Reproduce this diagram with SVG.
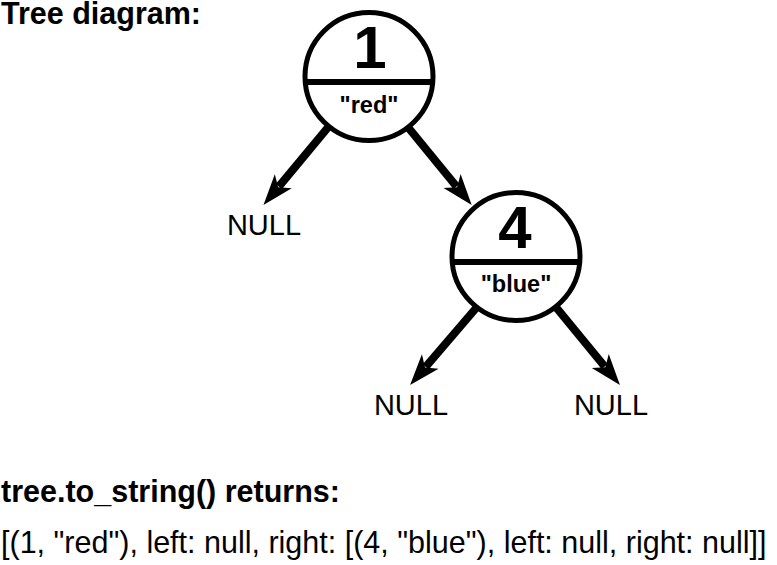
<svg xmlns="http://www.w3.org/2000/svg" width="777" height="565" viewBox="0 0 777 565">
<style>
text{font-family:"Liberation Sans",Arial,sans-serif;fill:#000}
.b{font-weight:bold}
.node circle{fill:#fff;stroke:#000;stroke-width:5}
.node line{stroke:#000;stroke-width:6}
.num{font-weight:bold;font-size:60px;text-anchor:middle}
.val{font-weight:bold;font-size:23.5px;text-anchor:middle}
.null{font-size:29px;text-anchor:middle}
.edge{stroke:#000;stroke-width:8;fill:none;marker-end:url(#ah)}
</style>
<defs>
<marker id="ah" markerUnits="userSpaceOnUse" orient="auto" refX="0" refY="0" markerWidth="1" markerHeight="1" overflow="visible">
<path d="M24,0 L-7,-11 L1,0 L-7,11 Z" fill="#000"/>
</marker>
</defs>
<rect width="777" height="565" fill="#fff"/>
<text class="b" x="1" y="24" font-size="30.5">Tree diagram:</text>
<g id="connectors">
<line class="edge" x1="330" y1="125" x2="278.8" y2="186.6"/>
<line class="edge" x1="407" y1="126" x2="456.5" y2="186.5"/>
<line class="edge" x1="477" y1="307" x2="425.7" y2="366.8"/>
<line class="edge" x1="555" y1="306" x2="604.7" y2="366.5"/>
</g>
<g id="node1" class="node">
<circle cx="369" cy="76.5" r="64"/>
<line x1="305" y1="82" x2="433" y2="82"/>
<text class="num" x="370" y="68">1</text>
<text class="val" x="369" y="113">"red"</text>
</g>
<g id="node4" class="node">
<circle cx="516" cy="256.5" r="64"/>
<line x1="452" y1="262" x2="580" y2="262"/>
<text class="num" x="515" y="248">4</text>
<text class="val" x="516" y="292">"blue"</text>
</g>
<g id="null1"><text class="null" x="264" y="235">NULL</text></g>
<g id="null2"><text class="null" x="411" y="415">NULL</text></g>
<g id="null3"><text class="null" x="611" y="415">NULL</text></g>
<text class="b" x="1" y="502" font-size="30.5">tree.to_string() returns:</text>
<text x="1" y="553" font-size="30.5">[(1, "red"), left: null, right: [(4, "blue"), left: null, right: null]]</text>
</svg>
